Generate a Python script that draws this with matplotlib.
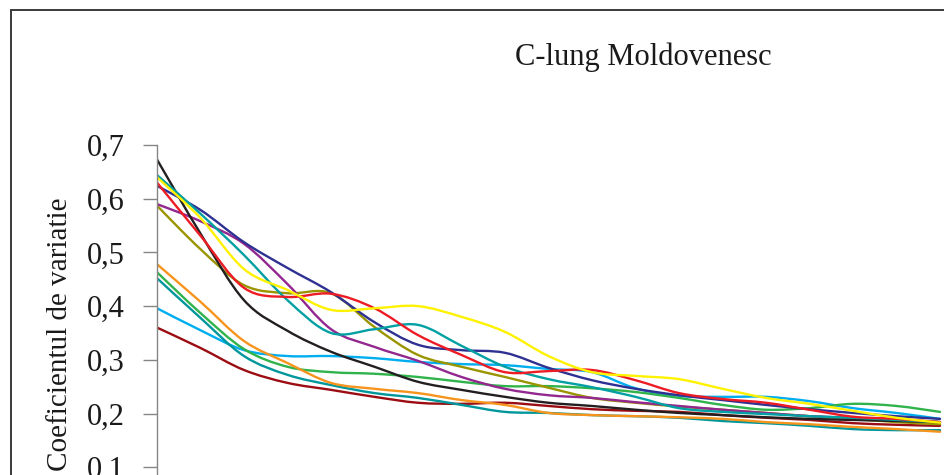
import numpy as np
import matplotlib
matplotlib.use("Agg")
import matplotlib.pyplot as plt
from matplotlib.path import Path
from matplotlib.patches import PathPatch, Rectangle
from matplotlib.ticker import FuncFormatter, FixedLocator

# category positions along the x axis (the chart continues beyond the crop)
steps = list(range(1, 20))

black = [0.673, 0.535, 0.411, 0.354, 0.315, 0.287, 0.259, 0.244, 0.231, 0.220, 0.214, 0.207, 0.201, 0.197, 0.193, 0.190, 0.188, 0.186, 0.184]
navy = [0.624, 0.579, 0.519, 0.471, 0.426, 0.370, 0.328, 0.318, 0.313, 0.285, 0.262, 0.246, 0.234, 0.225, 0.216, 0.208, 0.201, 0.195, 0.190]
red = [0.630, 0.531, 0.434, 0.417, 0.423, 0.396, 0.346, 0.309, 0.277, 0.279, 0.281, 0.262, 0.238, 0.227, 0.220, 0.207, 0.194, 0.190, 0.184]
yellow = [0.640, 0.564, 0.469, 0.430, 0.393, 0.396, 0.400, 0.380, 0.352, 0.307, 0.277, 0.270, 0.264, 0.246, 0.229, 0.218, 0.205, 0.192, 0.183]
teal1 = [0.644, 0.572, 0.495, 0.411, 0.350, 0.357, 0.365, 0.326, 0.287, 0.264, 0.249, 0.231, 0.210, 0.203, 0.199, 0.195, 0.192, 0.188, 0.184]
purple = [0.590, 0.558, 0.516, 0.441, 0.357, 0.324, 0.298, 0.268, 0.246, 0.234, 0.229, 0.221, 0.214, 0.207, 0.201, 0.195, 0.192, 0.188, 0.184]
olive = [0.587, 0.506, 0.439, 0.424, 0.424, 0.361, 0.309, 0.287, 0.268, 0.248, 0.229, 0.220, 0.213, 0.207, 0.201, 0.195, 0.190, 0.184, 0.180]
orange = [0.478, 0.408, 0.335, 0.294, 0.257, 0.246, 0.238, 0.225, 0.216, 0.201, 0.197, 0.195, 0.193, 0.190, 0.184, 0.180, 0.175, 0.171, 0.166]
green = [0.463, 0.387, 0.320, 0.287, 0.277, 0.274, 0.268, 0.259, 0.251, 0.251, 0.247, 0.240, 0.229, 0.216, 0.207, 0.210, 0.218, 0.214, 0.203]
teal2 = [0.452, 0.378, 0.307, 0.272, 0.253, 0.238, 0.229, 0.216, 0.203, 0.201, 0.197, 0.195, 0.192, 0.186, 0.182, 0.177, 0.171, 0.169, 0.169]
light_blue = [0.396, 0.355, 0.318, 0.307, 0.307, 0.303, 0.296, 0.292, 0.290, 0.283, 0.277, 0.247, 0.233, 0.231, 0.231, 0.223, 0.210, 0.201, 0.190]
maroon = [0.360, 0.322, 0.281, 0.257, 0.244, 0.231, 0.220, 0.218, 0.220, 0.214, 0.208, 0.205, 0.203, 0.197, 0.192, 0.188, 0.182, 0.179, 0.177]

y_ticks = [0.1, 0.2, 0.3, 0.4, 0.5, 0.6, 0.7]
title_text = "C-lung Moldovenesc"
ylabel_text = "Coeficientul de variatie"

series = [
    (maroon, "#9b0d12"),
    (light_blue, "#00aeef"),
    (teal2, "#00979c"),
    (green, "#2fb34a"),
    (orange, "#f7941d"),
    (olive, "#9a9400"),
    (purple, "#92278f"),
    (black, "#231f20"),
    (navy, "#2e3192"),
    (teal1, "#00a0a3"),
    (red, "#ed1c24"),
    (yellow, "#fff200"),
]

FONT = "Liberation Serif"
W, H = 945, 475
fig = plt.figure(figsize=(W / 100, H / 100), dpi=100)
fig.patch.set_facecolor("white")

# outer chart frame (continues past the right and bottom edges of the crop)
fig.add_artist(Rectangle((11 / W, -0.2), 1.3, (H - 10) / H + 0.2,
                         transform=fig.transFigure, fill=False,
                         edgecolor="#3a3a3a", lw=1.4, zorder=0))

px_per_step = 43.5
y_top_px, px_per_unit = 145.0, 537.0
ax_bottom_px = y_top_px + 0.7 * px_per_unit
ax = fig.add_axes([157 / W, (H - ax_bottom_px) / H, (W - 157) / W, (ax_bottom_px - y_top_px) / H])
ax.set_facecolor("none")
ax.set_xlim(steps[0], steps[0] + (W - 157) / px_per_step)
ax.set_ylim(0, 0.7)


def smooth_path(xs, ys):
    pts = np.column_stack([xs, ys]).astype(float)
    n = len(pts)
    verts = [pts[0]]
    codes = [Path.MOVETO]
    for i in range(n - 1):
        p0 = pts[i - 1] if i > 0 else pts[i]
        p1 = pts[i]
        p2 = pts[i + 1]
        p3 = pts[i + 2] if i + 2 < n else pts[i + 1]
        c1 = p1 + (p2 - p0) / 6.0
        c2 = p2 - (p3 - p1) / 6.0
        verts += [c1, c2, p2]
        codes += [Path.CURVE4] * 3
    return Path(verts, codes)


for vals, col in series:
    patch = PathPatch(smooth_path(steps, vals), facecolor="none", edgecolor=col,
                      lw=1.7, capstyle="round", joinstyle="round")
    ax.add_patch(patch)

for s in ["top", "right", "bottom"]:
    ax.spines[s].set_visible(False)
ax.spines["left"].set_color("#858585")
ax.spines["left"].set_linewidth(1.0)
ax.xaxis.set_visible(False)
ax.yaxis.set_major_locator(FixedLocator(y_ticks))
ax.yaxis.set_major_formatter(FuncFormatter(lambda v, p: f"{v:.1f}".replace(".", ",")))
ax.tick_params(axis="y", direction="out", length=10, width=1.0, color="#858585",
               labelsize=22, pad=13)
for lab in ax.get_yticklabels():
    lab.set_family(FONT)
    lab.set_color("#1a1a1a")

fig.text(643 / W, 1 - 65 / H, title_text, ha="center", va="baseline",
         fontsize=22, family=FONT, color="#1a1a1a")
fig.text(60 / W, (H - 471) / H, ylabel_text, rotation=90, ha="center", va="bottom",
         fontsize=21, family=FONT, color="#1a1a1a")

fig.savefig("out.png", dpi=100, facecolor="white")
